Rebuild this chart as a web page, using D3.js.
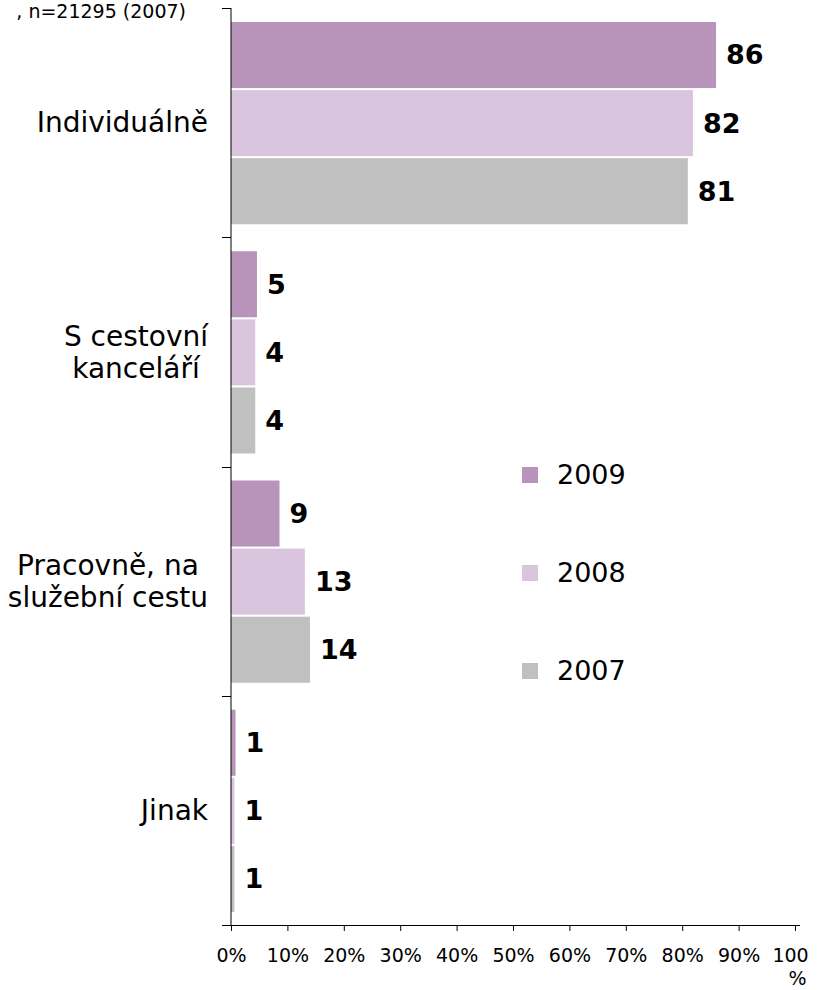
<!DOCTYPE html>
<html>
<head>
<meta charset="utf-8">
<script src="https://cdn.jsdelivr.net/npm/d3@7"></script>
<style>
  body { margin: 0; background: #fff; }
  text { font-family: "DejaVu Sans", Verdana, sans-serif; }
</style>
</head>
<body>
<div id="chart"></div>
<script>
// categories (top to bottom) and series
const categories = ["Individuálně", "S cestovní kanceláří", "Pracovně, na služební cestu", "Jinak"];
const categoryLines = [["Individuálně"], ["S cestovní", "kanceláří"], ["Pracovně, na", "služební cestu"], ["Jinak"]];
const years = ["2009", "2008", "2007"];
const values2009 = [86, 4.6, 8.6, 0.8];
const values2008 = [81.9, 4.3, 13.1, 0.6];
const values2007 = [81, 4.3, 14, 0.6];
const xTicks = [0, 10, 20, 30, 40, 50, 60, 70, 80, 90, 100];
const colors = ["#b894bb", "#d9c5dd", "#c0c0c0"];

const seriesValues = { "2009": values2009, "2008": values2008, "2007": values2007 };

const width = 820;
const height = 990;
const plot = { left: 231, right: 795, top: 8, bottom: 925 };

const svg = d3.select("#chart")
  .append("svg")
  .attr("width", width)
  .attr("height", height);

// scales
const xScale = d3.scaleLinear()
  .domain([0, 100])
  .range([plot.left, plot.right]);

const yScale = d3.scaleBand()
  .domain(categories)
  .range([plot.top, plot.bottom])
  .paddingInner(0)
  .paddingOuter(0);

const inner = d3.scaleBand()
  .domain(years)
  .range([14, yScale.bandwidth() - 13])
  .paddingInner(0.03);

const color = d3.scaleOrdinal().domain(years).range(colors);

// flatten data
const rows = [];
categories.forEach((c, i) => {
  years.forEach(y => rows.push({ cat: c, year: y, value: seriesValues[y][i] }));
});

// bars
svg.selectAll(".bar")
  .data(rows)
  .join("rect")
  .attr("class", "bar")
  .attr("x", xScale(0))
  .attr("y", d => yScale(d.cat) + inner(d.year))
  .attr("width", d => xScale(d.value) - xScale(0))
  .attr("height", inner.bandwidth())
  .attr("fill", d => color(d.year));

// value labels
svg.selectAll(".bar-label")
  .data(rows)
  .join("text")
  .attr("class", "bar-label")
  .attr("x", d => xScale(d.value) + 10)
  .attr("y", d => yScale(d.cat) + inner(d.year) + inner.bandwidth() / 2)
  .attr("dy", "0.35em")
  .attr("font-size", 27)
  .attr("font-weight", "bold")
  .attr("fill", "#000")
  .text(d => d3.format(".0f")(d.value));

// y axis line and ticks at category boundaries
const axisColor = "#000";
svg.append("line")
  .attr("x1", plot.left).attr("x2", plot.left)
  .attr("y1", plot.top).attr("y2", plot.bottom)
  .attr("stroke", axisColor);

const boundaries = categories.map(c => yScale(c)).concat([plot.bottom]);
svg.selectAll(".ytick")
  .data(boundaries)
  .join("line")
  .attr("class", "ytick")
  .attr("x1", plot.left - 9).attr("x2", plot.left)
  .attr("y1", d => Math.round(d) + 0.5).attr("y2", d => Math.round(d) + 0.5)
  .attr("stroke", axisColor);

// category labels: block right edge at x=208, lines centred in the block
const labelRight = 208;
const lineH = 32;
svg.selectAll(".cat-label")
  .data(categories)
  .join("text")
  .attr("class", "cat-label")
  .attr("text-anchor", "middle")
  .attr("font-size", 28)
  .attr("fill", "#000")
  .each(function(c, i) {
    const lines = categoryLines[i];
    const cy = yScale(c) + yScale.bandwidth() / 2;
    const t = d3.select(this);
    const spans = t.selectAll("tspan")
      .data(lines)
      .join("tspan")
      .attr("y", (d, j) => cy + (j - (lines.length - 1) / 2) * lineH)
      .attr("dy", "0.35em")
      .text(d => d);
    let maxW = 0;
    spans.each(function() { maxW = Math.max(maxW, this.getComputedTextLength()); });
    spans.attr("x", labelRight - maxW / 2);
  });

// x axis
const xAxis = d3.axisBottom(xScale)
  .tickValues(xTicks)
  .tickSize(6)
  .tickFormat(d => d + "%");

const xg = svg.append("g")
  .attr("transform", `translate(0, ${plot.bottom})`)
  .call(xAxis);

xg.select(".domain")
  .attr("d", `M${plot.left - 9},0.5H${width - 20}`)
  .attr("stroke", axisColor);
xg.selectAll(".tick line").attr("stroke", axisColor);
xg.selectAll(".tick text")
  .attr("font-family", "DejaVu Sans, Verdana, sans-serif")
  .attr("font-size", 19)
  .attr("fill", "#000")
  .attr("y", 24);

// the last label wraps: "100" / "%"
xg.selectAll(".tick text")
  .filter(d => d === 100)
  .text(null)
  .each(function() {
    const t = d3.select(this);
    t.append("tspan").attr("x", -5).attr("dy", "0.71em").text("100");
    t.append("tspan").attr("x", 2).attr("dy", "1.2em").text("%");
  });

// legend
const legend = svg.selectAll(".legend")
  .data(years)
  .join("g")
  .attr("class", "legend")
  .attr("transform", (d, i) => `translate(522, ${475 + i * 98})`);

legend.append("rect")
  .attr("x", 0).attr("y", -8)
  .attr("width", 16).attr("height", 16)
  .attr("fill", d => color(d));

legend.append("text")
  .attr("x", 35)
  .attr("dy", "0.35em")
  .attr("font-size", 27)
  .attr("fill", "#000")
  .text(d => d);

// note at the top-left
svg.append("text")
  .attr("x", 186)
  .attr("y", 18)
  .attr("text-anchor", "end")
  .attr("font-size", 19)
  .attr("fill", "#000")
  .text(", n=21295 (2007)");
</script>
</body>
</html>
